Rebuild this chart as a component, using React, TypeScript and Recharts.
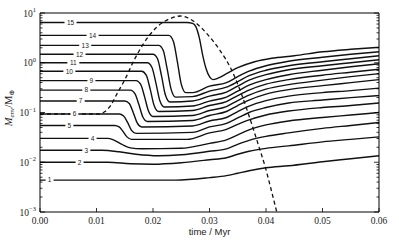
import { LineChart, Line, XAxis, YAxis, ReferenceDot } from "recharts";

// Envelope mass tracks as [time / Myr, log10(M_env / M_earth)].
const C1: [number, number][] = [[0, -2.36], [0.024, -2.36], [0.03, -2.31], [0.033, -2.27], [0.035, -2.22], [0.037, -2.17], [0.04, -2.11], [0.044, -2.07], [0.05, -1.99], [0.055, -1.93], [0.06, -1.87]];
const C2: [number, number][] = [[0, -2.0], [0.012, -2.0], [0.016, -2.03], [0.02, -2.04], [0.025, -2.01], [0.03, -1.95], [0.033, -1.91], [0.035, -1.84], [0.037, -1.78], [0.04, -1.72], [0.044, -1.67], [0.05, -1.59], [0.055, -1.54], [0.06, -1.49]];
const C3: [number, number][] = [[0, -1.76], [0.011, -1.76], [0.014, -1.79], [0.017, -1.84], [0.021, -1.87], [0.025, -1.85], [0.03, -1.78], [0.033, -1.73], [0.035, -1.64], [0.037, -1.56], [0.04, -1.48], [0.044, -1.41], [0.05, -1.32], [0.055, -1.26], [0.06, -1.2]];
const C4: [number, number][] = [[0, -1.52], [0.012, -1.52], [0.013, -1.55], [0.0145, -1.64], [0.016, -1.71], [0.018, -1.73], [0.025, -1.72], [0.03, -1.62], [0.033, -1.55], [0.035, -1.45], [0.037, -1.35], [0.04, -1.25], [0.044, -1.17], [0.05, -1.1], [0.055, -1.05], [0.06, -1.0]];
const C5: [number, number][] = [[0, -1.26], [0.0132, -1.26], [0.014, -1.29], [0.0147, -1.38], [0.0154, -1.49], [0.0162, -1.54], [0.026, -1.54], [0.03, -1.41], [0.033, -1.34], [0.035, -1.24], [0.037, -1.15], [0.04, -1.05], [0.044, -0.97], [0.05, -0.9], [0.055, -0.86], [0.06, -0.81]];
const C6: [number, number][] = [[0, -1.03], [0.014, -1.03], [0.0148, -1.07], [0.0155, -1.2], [0.0162, -1.36], [0.017, -1.42], [0.027, -1.4], [0.03, -1.29], [0.033, -1.22], [0.035, -1.11], [0.037, -1.0], [0.04, -0.9], [0.044, -0.81], [0.05, -0.75], [0.055, -0.7], [0.06, -0.66]];
const C7: [number, number][] = [[0, -0.77], [0.015, -0.77], [0.0158, -0.82], [0.0165, -1.0], [0.0172, -1.21], [0.018, -1.29], [0.027, -1.27], [0.03, -1.17], [0.033, -1.1], [0.035, -0.98], [0.037, -0.87], [0.04, -0.76], [0.044, -0.67], [0.05, -0.6], [0.055, -0.56], [0.06, -0.51]];
const C8: [number, number][] = [[0, -0.55], [0.016, -0.55], [0.0168, -0.62], [0.0175, -0.84], [0.0182, -1.09], [0.019, -1.18], [0.027, -1.16], [0.03, -1.06], [0.033, -0.98], [0.035, -0.86], [0.037, -0.75], [0.04, -0.63], [0.044, -0.54], [0.05, -0.46], [0.055, -0.4], [0.06, -0.34]];
const C9: [number, number][] = [[0, -0.36], [0.017, -0.36], [0.0178, -0.43], [0.0185, -0.68], [0.0192, -0.97], [0.02, -1.08], [0.027, -1.06], [0.03, -0.96], [0.033, -0.88], [0.035, -0.76], [0.037, -0.65], [0.04, -0.53], [0.044, -0.44], [0.05, -0.35], [0.055, -0.28], [0.06, -0.22]];
const C10: [number, number][] = [[0, -0.17], [0.018, -0.17], [0.0188, -0.25], [0.0195, -0.53], [0.0202, -0.86], [0.021, -0.98], [0.027, -0.96], [0.03, -0.86], [0.033, -0.78], [0.035, -0.66], [0.037, -0.55], [0.04, -0.43], [0.044, -0.34], [0.05, -0.25], [0.055, -0.19], [0.06, -0.13]];
const C11: [number, number][] = [[0, 0], [0.019, 0], [0.0198, -0.09], [0.0205, -0.4], [0.0212, -0.76], [0.022, -0.89], [0.027, -0.87], [0.03, -0.77], [0.033, -0.69], [0.035, -0.57], [0.037, -0.45], [0.04, -0.34], [0.044, -0.24], [0.05, -0.15], [0.055, -0.08], [0.06, -0.02]];
const C12: [number, number][] = [[0, 0.17], [0.02, 0.17], [0.0208, 0.08], [0.0215, -0.26], [0.0222, -0.65], [0.023, -0.79], [0.027, -0.77], [0.03, -0.67], [0.033, -0.59], [0.035, -0.47], [0.037, -0.35], [0.04, -0.24], [0.044, -0.14], [0.05, -0.06], [0.055, 0.0], [0.06, 0.06]];
const C13: [number, number][] = [[0, 0.35], [0.021, 0.35], [0.0218, 0.25], [0.0225, -0.12], [0.0232, -0.53], [0.024, -0.69], [0.027, -0.68], [0.03, -0.57], [0.033, -0.49], [0.035, -0.38], [0.037, -0.26], [0.04, -0.15], [0.044, -0.06], [0.05, 0.02], [0.055, 0.08], [0.06, 0.14]];
const C14: [number, number][] = [[0, 0.55], [0.0228, 0.55], [0.0236, 0.43], [0.0243, 0.03], [0.025, -0.43], [0.0258, -0.6], [0.027, -0.6], [0.03, -0.47], [0.033, -0.4], [0.035, -0.28], [0.037, -0.17], [0.04, -0.06], [0.044, 0.03], [0.05, 0.11], [0.055, 0.17], [0.06, 0.22]];
const C15: [number, number][] = [[0, 0.81], [0.026, 0.81], [0.027, 0.79], [0.0276, 0.72], [0.0282, 0.5], [0.0288, 0.15], [0.0294, -0.12], [0.03, -0.28], [0.0306, -0.34], [0.0315, -0.31], [0.033, -0.22], [0.035, -0.1], [0.038, 0.02], [0.041, 0.09], [0.045, 0.14], [0.05, 0.22], [0.055, 0.27], [0.06, 0.31]];
const DASHED: [number, number][] = [[0, -1.03], [0.0105, -1.03], [0.0115, -0.98], [0.0125, -0.86], [0.0136, -0.63], [0.0151, -0.32], [0.0166, 0.04], [0.0183, 0.38], [0.0207, 0.72], [0.0231, 0.89], [0.0249, 0.94], [0.0262, 0.9], [0.0278, 0.78], [0.0298, 0.55], [0.0319, 0.24], [0.0338, -0.12], [0.0355, -0.58], [0.0368, -1.0], [0.0387, -1.67], [0.0398, -2.07], [0.0408, -2.5], [0.0419, -3.0]];

const TRACKS = [C1, C2, C3, C4, C5, C6, C7, C8, C9, C10, C11, C12, C13, C14, C15];
// where the number sits on each track's flat start
const TAG_T = [0.0017, 0.007, 0.0082, 0.0093, 0.0052, 0.0061, 0.0072, 0.0082, 0.0091, 0.0052, 0.0059, 0.007, 0.008, 0.0093, 0.0054];

const T_TICKS = [0, 0.01, 0.02, 0.03, 0.04, 0.05, 0.06];
const MAJOR_EXP = [-3, -2, -1, 0, 1];
const MINOR_MULT = [2, 3, 4, 5, 6, 7, 8, 9];
const Y_TICKS = [...MAJOR_EXP, ...MAJOR_EXP.slice(0, -1).flatMap((e) => MINOR_MULT.map((m) => e + Math.log10(m)))];

const INK = "#111";
const SERIF = "'Liberation Serif', 'DejaVu Serif', serif";
const SANS = "'Liberation Sans', Arial, sans-serif";

const toRows = (pts: [number, number][]) => pts.map(([t, m]) => ({ t, m }));
const isMajor = (v: number) => Math.abs(v - Math.round(v)) < 1e-9;

function LeftTick({ x, y, payload }: any) {
  const major = isMajor(payload.value);
  const e = Math.round(payload.value);
  return (
    <g>
      <line x1={x} x2={x + (major ? 5 : 2.5)} y1={y} y2={y} stroke="#000" strokeWidth={0.8} />
      {major && (
        <text x={x - 4} y={y + 3.5} textAnchor="end" fontFamily={SERIF} fontSize={9.5} fill="#222">
          10
          <tspan dy={-4.5} fontSize={6.5}>{e < 0 ? `\u2212${-e}` : `${e}`}</tspan>
        </text>
      )}
    </g>
  );
}

function RightTick({ x, y, payload }: any) {
  const major = isMajor(payload.value);
  return <line x1={x} x2={x - (major ? 5 : 2.5)} y1={y} y2={y} stroke="#000" strokeWidth={0.8} />;
}

function BottomTick({ x, y, payload }: any) {
  return (
    <g>
      <line x1={x} x2={x} y1={y} y2={y - 4} stroke="#000" strokeWidth={0.8} />
      <text x={x} y={y + 12} textAnchor="middle" fontFamily={SERIF} fontSize={9.5} fill="#222">
        {payload.value.toFixed(2)}
      </text>
    </g>
  );
}

function TopTick({ x, y }: any) {
  return <line x1={x} x2={x} y1={y} y2={y + 4} stroke="#000" strokeWidth={0.8} />;
}

export default function App() {
  return (
    <div>
      <style>{"body{margin:0}"}</style>
      <LineChart width={399} height={249} margin={{ top: 12, right: 19, bottom: 0, left: 0 }}>
        <XAxis
          type="number"
          dataKey="t"
          domain={[0, 0.06]}
          ticks={T_TICKS}
          interval={0}
          height={37}
          tickSize={0}
          tickMargin={0}
          tick={BottomTick}
          axisLine={{ stroke: "#000" }}
          label={{ value: "time / Myr", position: "insideBottom", offset: 14, fontFamily: SANS, fontSize: 9.5, fill: "#222" }}
        />
        <XAxis
          xAxisId="top"
          orientation="top"
          type="number"
          domain={[0, 0.06]}
          allowDataOverflow
          ticks={T_TICKS}
          interval={0}
          height={1}
          tickSize={0}
          tickMargin={0}
          tick={TopTick}
          axisLine={{ stroke: "#000" }}
        />
        <YAxis
          type="number"
          domain={[-3, 1]}
          allowDataOverflow
          ticks={Y_TICKS}
          interval={0}
          width={40}
          tickSize={0}
          tickMargin={0}
          tick={LeftTick}
          axisLine={{ stroke: "#000" }}
          label={{
            content: () => (
              <text transform="translate(12,108) rotate(-90)" textAnchor="middle" fontFamily={SERIF} fontSize={10.5} fill="#222">
                <tspan fontStyle="italic">M</tspan>
                <tspan fontStyle="italic" fontSize={7} dy={2}>env</tspan>
                <tspan dy={-2}>/M</tspan>
                <tspan fontSize={7} dy={2}>⊕</tspan>
              </text>
            ),
          }}
        />
        <YAxis
          yAxisId="right"
          orientation="right"
          type="number"
          domain={[-3, 1]}
          allowDataOverflow
          ticks={Y_TICKS}
          interval={0}
          width={1}
          tickSize={0}
          tickMargin={0}
          tick={RightTick}
          axisLine={{ stroke: "#000" }}
        />
        {TRACKS.map((pts, i) => (
          <Line
            key={i}
            data={toRows(pts)}
            dataKey="m"
            type="monotone"
            stroke={INK}
            strokeWidth={1.4}
            dot={false}
            isAnimationActive={false}
          />
        ))}
        <Line
          data={toRows(DASHED)}
          dataKey="m"
          type="monotone"
          stroke={INK}
          strokeWidth={1.3}
          strokeDasharray="4 3"
          dot={false}
          isAnimationActive={false}
        />
        {TRACKS.map((pts, i) => {
          const label = String(i + 1);
          const w = label.length > 1 ? 12 : 8;
          return (
            <ReferenceDot
              key={`tag${i}`}
              x={TAG_T[i]}
              y={pts[0][1]}
              r={0}
              shape={(p: any) => (
                <g>
                  <rect x={p.cx - w / 2} y={p.cy - 3.5} width={w} height={7} fill="#fff" />
                  <text x={p.cx} y={p.cy + 2.3} textAnchor="middle" fontFamily={SANS} fontSize={6.5} fill="#222">
                    {label}
                  </text>
                </g>
              )}
            />
          );
        })}
      </LineChart>
    </div>
  );
}
